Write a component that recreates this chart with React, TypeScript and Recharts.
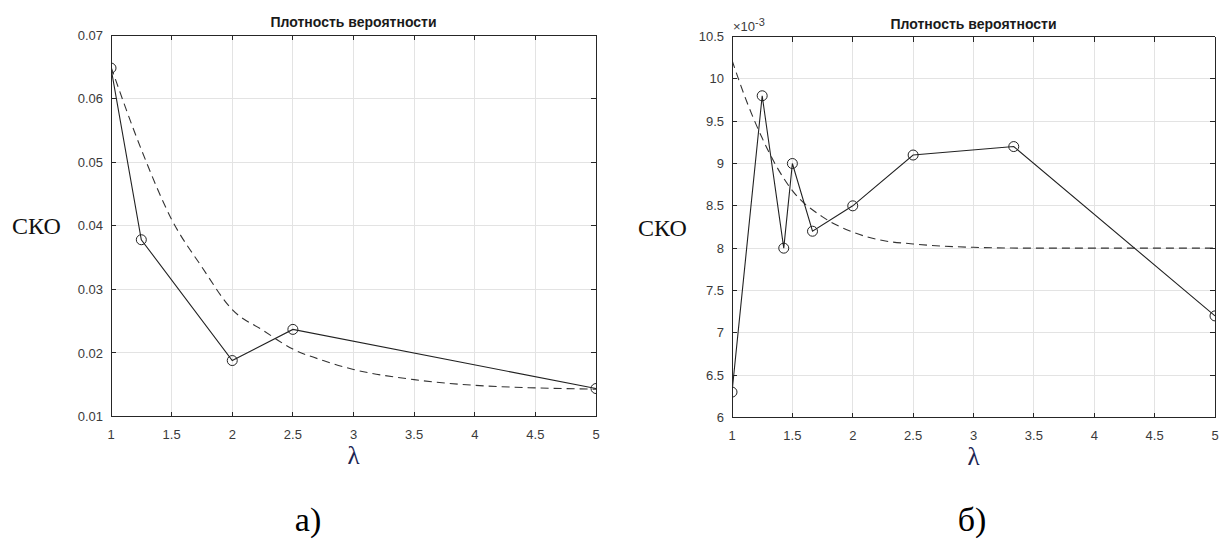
import React from 'react';
import { LineChart, Line, XAxis, YAxis, CartesianGrid } from 'recharts';

// а) measured СКО vs λ
const lambdaA = [1, 1.25, 2, 2.5, 5];
const skoA = [0.0648, 0.0378, 0.0188, 0.0237, 0.0144];
// а) dashed approximation
const fitLambdaA = [1, 1.25, 1.5, 1.75, 2, 2.25, 2.5, 2.75, 3, 3.5, 4, 4.5, 5];
const fitSkoA = [0.065, 0.052, 0.041, 0.0335, 0.0268, 0.0236, 0.0206, 0.0188, 0.0174, 0.0158, 0.0149, 0.0145, 0.0143];

// б) measured СКО vs λ (values in units of 10^-3)
const lambdaB = [1, 1.25, 1.4286, 1.5, 1.6667, 2, 2.5, 3.3333, 5];
const skoB = [6.3, 9.8, 8.0, 9.0, 8.2, 8.5, 9.1, 9.2, 7.2];
// б) dashed approximation (units of 10^-3)
const fitLambdaB = [1, 1.125, 1.25, 1.375, 1.5, 1.75, 2, 2.25, 2.5, 3, 3.5, 4, 4.5, 5];
const fitSkoB = [10.22, 9.72, 9.3, 8.95, 8.68, 8.37, 8.19, 8.09, 8.05, 8.01, 8.0, 8.0, 8.0, 8.0];

const xTicks = [1, 1.5, 2, 2.5, 3, 3.5, 4, 4.5, 5];
const yTicksA = [0.01, 0.02, 0.03, 0.04, 0.05, 0.06, 0.07];
const yTicksB = [6, 6.5, 7, 7.5, 8, 8.5, 9, 9.5, 10, 10.5];

const TITLE = 'Плотность вероятности';
const Y_LABEL = 'СКО';
const X_LABEL = 'λ';

const toPoints = (xs: number[], ys: number[]) => xs.map((x, i) => ({ x, y: ys[i] }));

const axisColor = '#262626';
const sans = '"Liberation Sans", Arial, sans-serif';
const serif = '"Liberation Serif", "Times New Roman", serif';
const tickFont = { fontFamily: sans, fontSize: 13, fill: '#3a3a3a' };
const axisLine = { stroke: axisColor, strokeWidth: 1, shapeRendering: 'crispEdges' };

interface PanelProps {
  width: number;
  margin: { top: number; right: number; bottom: number; left: number };
  yAxisWidth: number;
  yDomain: [number, number];
  yTicks: number[];
  points: { x: number; y: number }[];
  fit: { x: number; y: number }[];
  labelOffset: number;
}

const Panel: React.FC<PanelProps> = ({ width, margin, yAxisWidth, yDomain, yTicks, points, fit, labelOffset }) => (
  <LineChart width={width} height={541} margin={margin}>
    <CartesianGrid stroke="#e3e3e3" shapeRendering="crispEdges" />
    <XAxis
      type="number"
      dataKey="x"
      domain={[1, 5]}
      ticks={xTicks}
      height={30}
      tickSize={-5}
      tickMargin={18}
      axisLine={axisLine}
      tickLine={axisLine}
      tick={tickFont}
      allowDataOverflow
      label={{ value: X_LABEL, position: 'bottom', offset: 0, style: { fontFamily: serif, fontSize: 25, fill: '#1c2452' } }}
    />
    <XAxis
      xAxisId="top"
      orientation="top"
      type="number"
      dataKey="x"
      domain={[1, 5]}
      ticks={xTicks}
      height={1}
      mirror
      tickSize={5}
      tickFormatter={() => ''}
      axisLine={axisLine}
      tickLine={axisLine}
      allowDataOverflow
      label={{ value: TITLE, position: 'top', offset: 8, style: { fontFamily: sans, fontWeight: 'bold', fontSize: 14, fill: '#1a1a1a' } }}
    />
    <YAxis
      type="number"
      domain={yDomain}
      ticks={yTicks}
      width={yAxisWidth}
      tickSize={-5}
      tickMargin={13}
      axisLine={axisLine}
      tickLine={axisLine}
      tick={tickFont}
      allowDataOverflow
      label={{ value: Y_LABEL, position: 'insideLeft', offset: labelOffset, style: { fontFamily: serif, fontSize: 24, fill: '#111' } }}
    />
    <YAxis
      yAxisId="right"
      orientation="right"
      type="number"
      domain={yDomain}
      ticks={yTicks}
      width={1}
      mirror
      tickSize={5}
      tickFormatter={() => ''}
      axisLine={axisLine}
      tickLine={axisLine}
      allowDataOverflow
    />
    {/* invisible copy bound to the box axes so they get drawn */}
    <Line
      xAxisId="top"
      yAxisId="right"
      data={points}
      dataKey="y"
      stroke="none"
      dot={false}
      activeDot={false}
      legendType="none"
      isAnimationActive={false}
    />
    <Line
      data={fit}
      dataKey="y"
      type="monotone"
      stroke="#333"
      strokeWidth={1.1}
      strokeDasharray="8 5"
      dot={false}
      isAnimationActive={false}
    />
    <Line
      data={points}
      dataKey="y"
      type="linear"
      stroke="#222"
      strokeWidth={1.1}
      dot={{ r: 5, fill: 'none', stroke: '#222', strokeWidth: 1 }}
      isAnimationActive={false}
    />
  </LineChart>
);

const caption: React.CSSProperties = {
  position: 'absolute',
  top: 500,
  fontFamily: serif,
  fontSize: 34,
  lineHeight: '40px',
  color: '#000',
  transform: 'translateX(-50%)',
};

export default function App() {
  return (
    <div style={{ position: 'absolute', left: 0, top: 0, width: 1219, height: 541, background: '#fff' }}>
      <div style={{ position: 'absolute', left: 0, top: 0 }}>
        <Panel
          width={610}
          margin={{ top: 35, right: 14, bottom: 94.5, left: 0 }}
          yAxisWidth={111}
          yDomain={[0.01, 0.07]}
          yTicks={yTicksA}
          points={toPoints(lambdaA, skoA)}
          fit={toPoints(fitLambdaA, fitSkoA)}
          labelOffset={12}
        />
      </div>
      <div style={{ position: 'absolute', left: 610, top: 0 }}>
        <Panel
          width={609}
          margin={{ top: 36.5, right: 4, bottom: 93.5, left: 0 }}
          yAxisWidth={122}
          yDomain={[6, 10.5]}
          yTicks={yTicksB}
          points={toPoints(lambdaB, skoB)}
          fit={toPoints(fitLambdaB, fitSkoB)}
          labelOffset={28}
        />
      </div>
      <div style={{ position: 'absolute', left: 733, top: 16, fontFamily: sans, fontSize: 13, color: '#3a3a3a' }}>
        ×10<sup style={{ fontSize: 11 }}>-3</sup>
      </div>
      <div style={{ ...caption, left: 308 }}>а)</div>
      <div style={{ ...caption, left: 972 }}>б)</div>
    </div>
  );
}
